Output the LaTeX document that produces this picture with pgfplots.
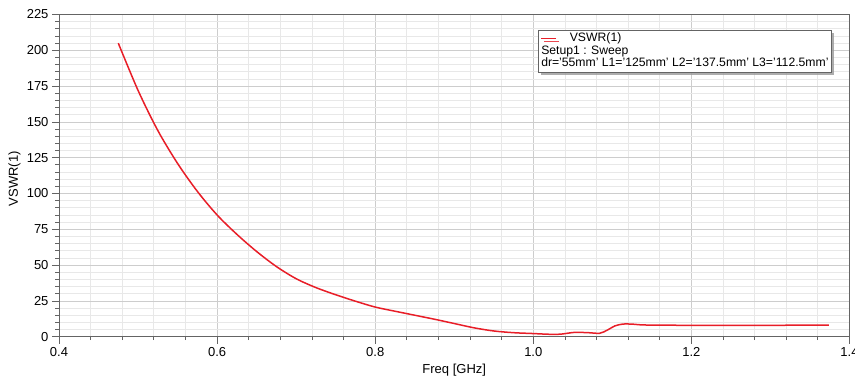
\documentclass[border=0pt]{standalone}
\usepackage{fontspec}
\setmainfont{Liberation Sans}
\usepackage{pgfplots}
\pgfplotsset{compat=1.18}
\usetikzlibrary{shadows}
\definecolor{vswr}{RGB}{232,30,40}
\definecolor{majgrid}{RGB}{205,205,205}
\definecolor{mingrid}{RGB}{232,232,232}
\definecolor{axcol}{RGB}{100,100,100}
\begin{document}
\begin{tikzpicture}[x=1pt,y=1pt]
\begin{axis}[
  at={(59pt,39.3pt)}, anchor=south west,
  scale only axis, width=790.5pt, height=322.2pt,
  xmin=0.4, xmax=1.4, ymin=0, ymax=225,
  xtick={0.4,0.6,...,1.41}, ytick={0,25,...,225},
  minor x tick num=4, minor y tick num=4,
  grid=both,
  major grid style={color=majgrid, line width=0.8pt},
  minor grid style={color=mingrid, line width=0.8pt},
  axis line style={axcol, line width=0.9pt},
  tick style={axcol, line width=0.8pt},
  tick align=outside,
  xtick pos=bottom, ytick pos=left,
  major tick length=7pt, minor tick length=3.5pt,
  /pgf/number format/assume math mode=true,
  xticklabel style={/pgf/number format/.cd, fixed, fixed zerofill, precision=1},
  yticklabel style={/pgf/number format/.cd, fixed, precision=0},
  tick label style={font=\fontsize{13}{15}\selectfont, text=black},
  xlabel={Freq [GHz]}, ylabel={VSWR(1)},
  label style={font=\fontsize{13}{15}\selectfont},
  xlabel style={at={(axis description cs:0.5,0)}, anchor=north, yshift=-24pt},
  ylabel style={at={(axis description cs:0,0.49)}, anchor=south, yshift=35pt},
  legend cell align=left,
  legend image code/.code={\draw[#1] (0pt,0pt) -- (15pt,0pt);},
  legend style={at={(0.6055,0.952)}, anchor=north west,
    draw=axcol, line width=0.8pt, fill=white,
    drop shadow={shadow xshift=3pt, shadow yshift=-3pt, fill=black!40, opacity=0.8},
    font=\fontsize{12.2}{14}\selectfont,
    inner xsep=2.5pt, inner ysep=1.5pt, row sep=0pt,
    nodes={inner sep=0.3pt, text height=9pt, text depth=3.3pt},
    /tikz/every odd column/.append style={column sep=13pt}},
  legend image post style={line width=1pt},
]
\addplot[vswr, line width=1.5pt, smooth, tension=0.5] coordinates {
(0.475,205) (0.50,172) (0.525,144) (0.55,121) (0.575,101.5) (0.60,85)
(0.625,71.5) (0.65,59.5) (0.675,49) (0.70,40.5) (0.725,34.3) (0.75,29.3)
(0.775,24.8) (0.80,20.7) (0.825,17.8) (0.85,15.0) (0.875,12.2) (0.90,9.2)
(0.925,6.2) (0.95,4.0) (0.975,2.8) (1.00,2.2) (1.02,1.7) (1.035,1.8)
(1.052,3.0) (1.07,2.8) (1.084,2.4) (1.094,4.7) (1.103,7.5) (1.113,8.8)
(1.125,8.8) (1.14,8.2) (1.18,8.0) (1.25,7.9) (1.32,8.0) (1.374,8.1)
};
\addlegendentry{VSWR(1)}
\addlegendimage{empty legend}
\addlegendentry{\hspace{-28.6pt}Setup1 : Sweep}
\addlegendimage{empty legend}
\addlegendentry{\hspace{-28.6pt}dr='55mm' L1='125mm' L2='137.5mm' L3='112.5mm'}
\end{axis}
\pgfresetboundingbox
\path[use as bounding box] (0,0) rectangle (855pt,376pt);
\end{tikzpicture}
\end{document}
